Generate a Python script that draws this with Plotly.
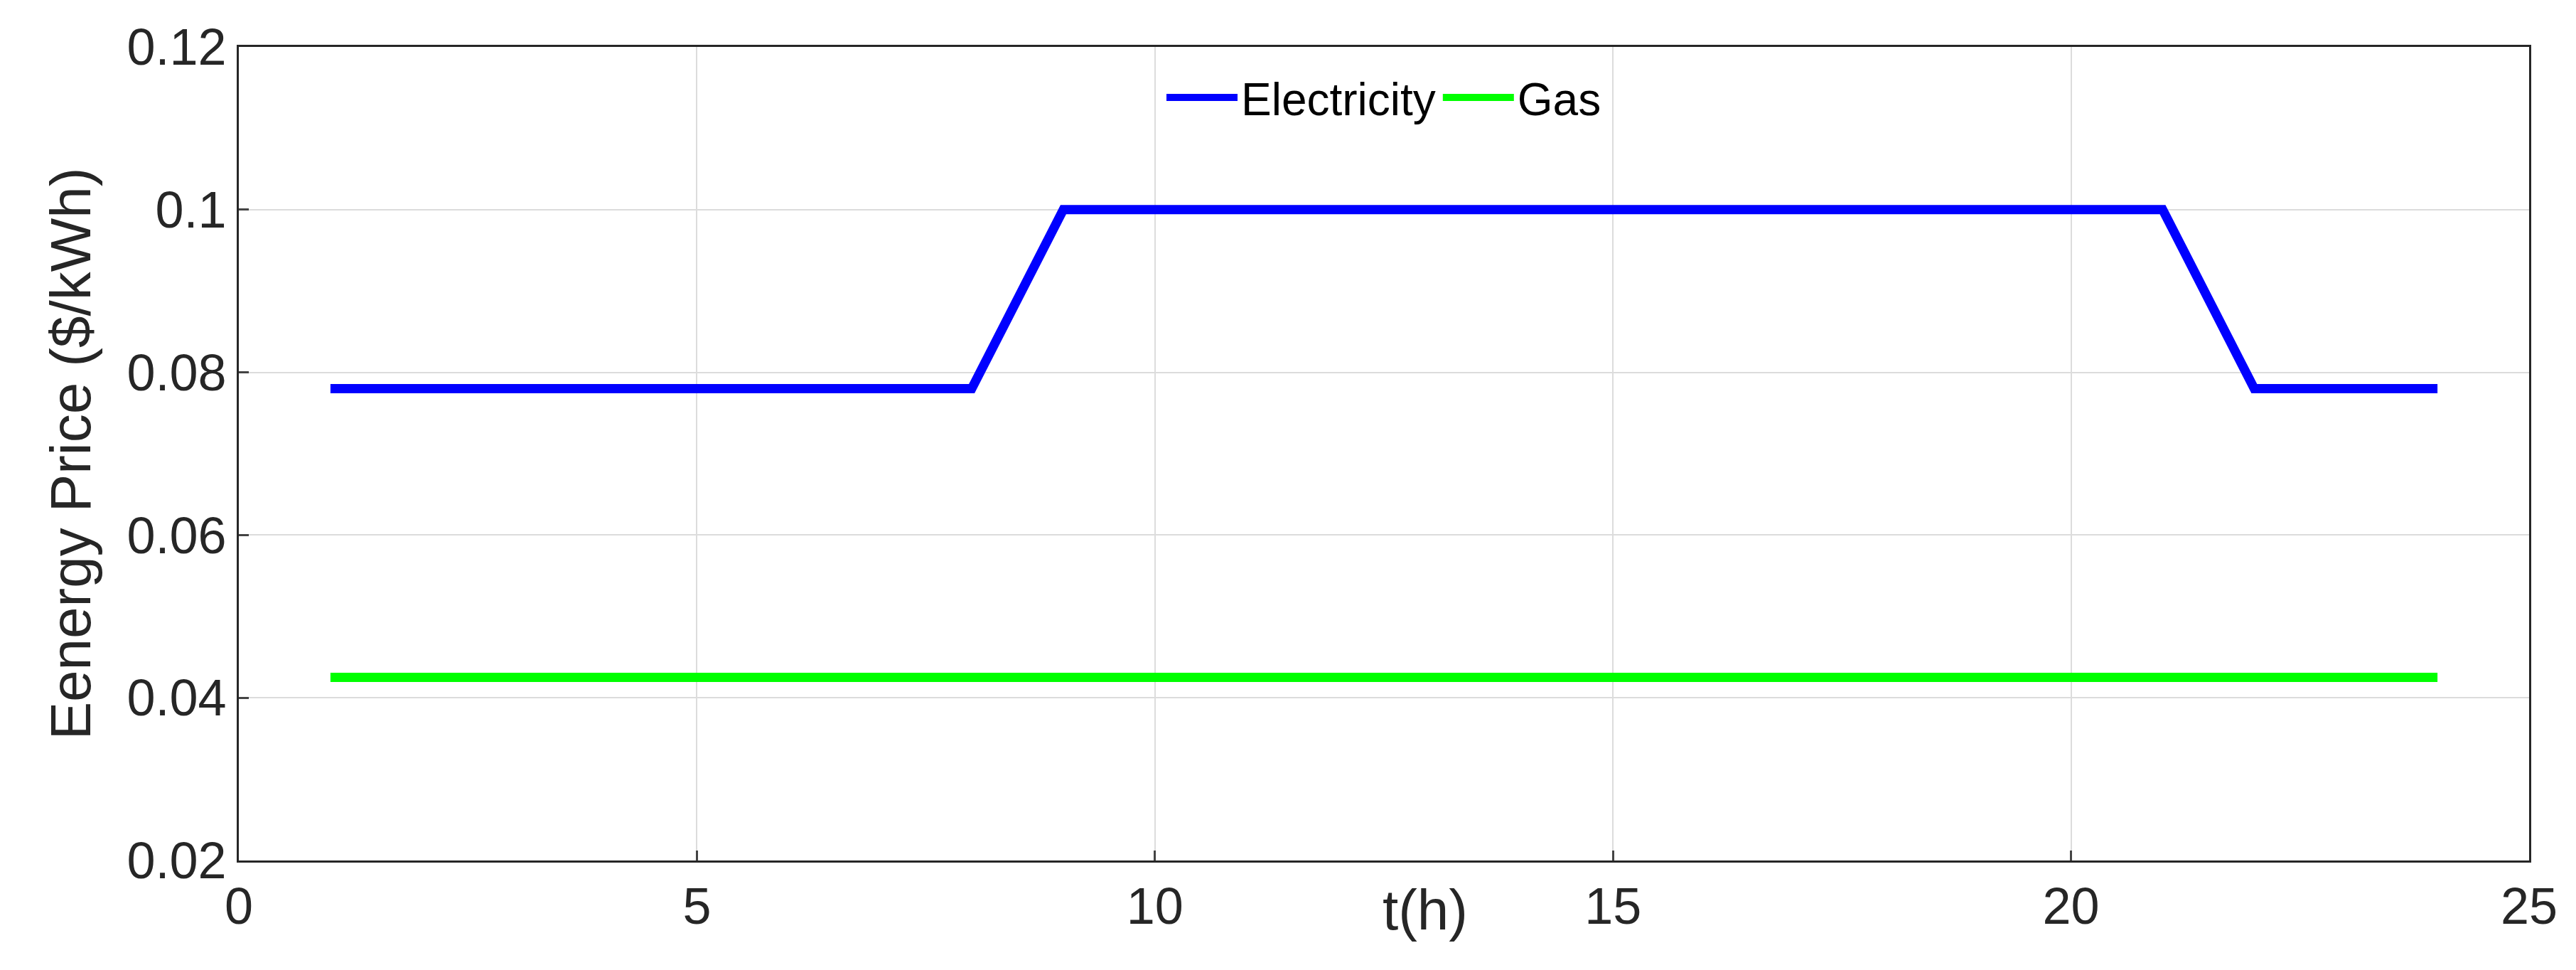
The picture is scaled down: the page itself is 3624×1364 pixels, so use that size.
import plotly.graph_objects as go

hours = list(range(1, 25))
electricity = [0.078]*8 + [0.1]*13 + [0.078]*3
gas = [0.0425]*24
x_ticks = [0, 5, 10, 15, 20, 25]
y_ticks = [0.02, 0.04, 0.06, 0.08, 0.1, 0.12]
y_labels = ["0.02", "0.04", "0.06", "0.08", "0.1", "0.12"]

fig = go.Figure()
fig.add_trace(go.Scatter(x=hours, y=electricity, mode="lines", name="Electricity",
                         line=dict(color="#0000FF", width=13)))
fig.add_trace(go.Scatter(x=hours, y=gas, mode="lines", name="Gas",
                         line=dict(color="#00FF00", width=13)))
fig.update_layout(
    width=3624, height=1364, paper_bgcolor="white", plot_bgcolor="white",
    margin=dict(l=328, r=74, t=58, b=162),
    font=dict(family="Arial, Liberation Sans", size=72, color="#262626"),
    legend=dict(orientation="h", x=0.5, xanchor="center", y=0.98, yanchor="top",
                bgcolor="rgba(0,0,0,0)", font=dict(size=64, color="black"),
                itemwidth=100, tracegroupgap=0),
    xaxis=dict(range=[0, 25], tickvals=x_ticks, showgrid=True, gridcolor="#DCDCDC",
               gridwidth=2, showline=True, linecolor="#262626", linewidth=3, mirror=True,
               ticks="inside", ticklen=14, tickwidth=3, zeroline=False),
    yaxis=dict(range=[0.02, 0.12], tickvals=y_ticks, ticktext=y_labels, showgrid=True,
               gridcolor="#DCDCDC", gridwidth=2, showline=True, linecolor="#262626",
               linewidth=3, mirror=True, ticks="inside", ticklen=14, tickwidth=3,
               title=dict(text="Eenergy Price ($/kWh)", font=dict(size=80), standoff=25),
               zeroline=False),
    annotations=[dict(text="t(h)", x=12.95, y=-0.02, xref="x", yref="paper",
                      yanchor="top", showarrow=False, font=dict(size=80, color="#262626"))],
)
fig.write_html("out.html")
